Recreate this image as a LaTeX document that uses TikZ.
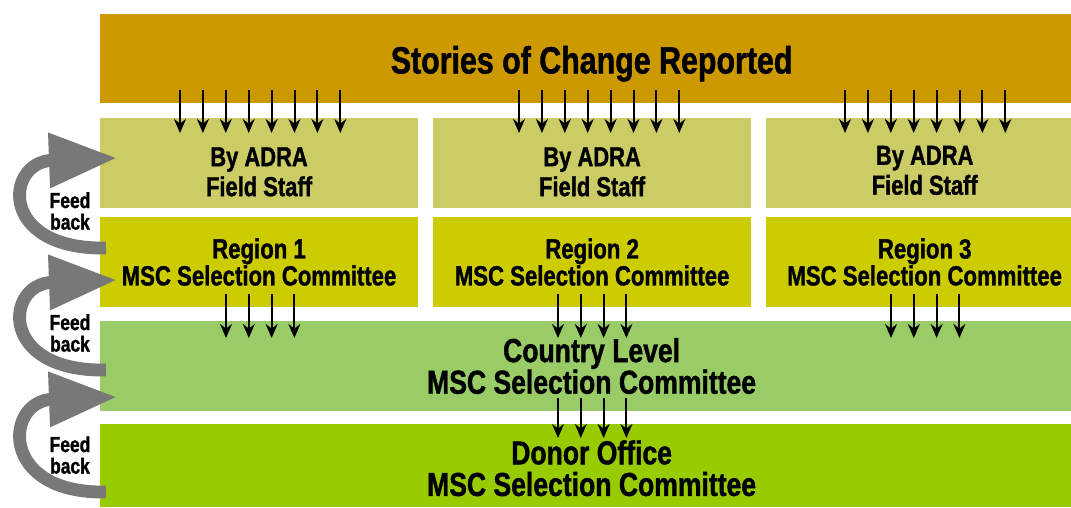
\documentclass[tikz,border=0pt]{standalone}
\usepackage{fontspec}
\setmainfont{Liberation Sans}[FakeStretch=0.8,BoldFeatures={FakeBold=1.2}]
\usetikzlibrary{positioning,calc,arrows.meta}
\usepackage{xcolor}
\definecolor{storycol}{HTML}{CC9900}
\definecolor{staffcol}{HTML}{CCCC66}
\definecolor{regioncol}{HTML}{CCCC00}
\definecolor{countrycol}{HTML}{99CC66}
\definecolor{donorcol}{HTML}{99CC00}
\definecolor{fbcol}{HTML}{787878}
\newcommand{\pushr}{\hspace*{0.3cm}}

\begin{document}
\begin{tikzpicture}[x=0.025cm,y=-0.025cm,
    box/.style={anchor=north west,inner sep=0pt,outer sep=0pt,align=center},
    staff box/.style={box,fill=staffcol,minimum width=7.95cm,minimum height=2.25cm,
      font=\bfseries\fontsize{19.5}{21.3}\selectfont},
    region box/.style={box,fill=regioncol,minimum width=7.95cm,minimum height=2.25cm,
      font=\bfseries\fontsize{19.7}{19.2}\selectfont},
    wide box/.style={box,minimum width=24.275cm,minimum height=2.25cm,
      font=\bfseries\fontsize{23.6}{22.5}\selectfont},
    down/.style={-{Stealth[length=0.35cm,width=0.3cm]},line width=0.05cm},
    feed/.style={fbcol,line width=0.32cm,-{Triangle[length=1.7cm,width=1.3cm]}},
    fb text/.style={font=\bfseries\fontsize{15.5}{15.3}\selectfont,align=center}]
    \useasboundingbox (0,0) rectangle (1071,507);
    % nodes
      \node[box,fill=storycol,minimum width=24.275cm,minimum height=2.225cm,
        font=\bfseries\fontsize{27}{30}\selectfont] (story) at (100,14) {\rule{0pt}{27pt}\pushr Stories of Change Reported};
      \node[staff box] (staff1) at (100,118) {\rule{0pt}{26pt}By ADRA\\Field Staff};
      \node[staff box,right=0.375cm of staff1] (staff2) {\rule{0pt}{26pt}By ADRA\\Field Staff};
      \node[staff box,minimum width=7.625cm,right=0.375cm of staff2] (staff3) {\rule{0pt}{24pt}\pushr By ADRA\\\pushr Field Staff};
      \node[region box] (region1) at (100,217) {Region 1\\MSC Selection Committee};
      \node[region box,right=0.375cm of region1] (region2) {Region 2\\MSC Selection Committee};
      \node[region box,minimum width=7.625cm,right=0.375cm of region2] (region3) {\pushr Region 3\\\pushr MSC Selection Committee};
      \node[wide box,fill=countrycol] (country) at (100,321) {\pushr Country Level\\\pushr MSC Selection Committee};
      \node[wide box,fill=donorcol,minimum height=2.075cm] (donor) at (100,424) {\rule{0pt}{21pt}\pushr Donor Office\\\pushr MSC Selection Committee};
      \node[fb text] (fbt1) at (70,211) {Feed\\back};
      \node[fb text] (fbt2) at (70,333) {Feed\\back};
      \node[fb text] (fbt3) at (70,455) {Feed\\back};
    %edges
      \foreach \g/\x in {1/180,2/519,3/845}
        \foreach \k in {0,...,7}{
          \coordinate (top\g\k) at ({\x+22.9*\k},90);
          \coordinate (bot\g\k) at ({\x+22.9*\k},133);
          \draw[down] (top\g\k) -- (bot\g\k);
        }
      \foreach \g/\x in {1/226,2/558,3/891}
        \foreach \k in {0,...,3}{
          \coordinate (rtop\g\k) at ({\x+22.8*\k},294);
          \coordinate (rbot\g\k) at ({\x+22.8*\k},338);
          \draw[down] (rtop\g\k) -- (rbot\g\k);
        }
      \foreach \k in {0,...,3}{
        \coordinate (ctop\k) at ({558+22.8*\k},398);
        \coordinate (cbot\k) at ({558+22.8*\k},438);
        \draw[down] (ctop\k) -- (cbot\k);
      }
    % feed back
      \coordinate (fb1a) at (106,248);
      \coordinate (fb1b) at (117,158);
      \coordinate (fb2a) at (106,370);
      \coordinate (fb2b) at (117,280);
      \coordinate (fb3a) at (106,492);
      \coordinate (fb3b) at (117,397);
      \draw[feed] (fb1a) .. controls +(-108,2) and +(-112,4) .. (fb1b);
      \draw[feed] (fb2a) .. controls +(-108,2) and +(-112,4) .. (fb2b);
      \draw[feed] (fb3a) .. controls +(-108,2) and +(-112,4) .. (fb3b);
\end{tikzpicture}
\end{document}
